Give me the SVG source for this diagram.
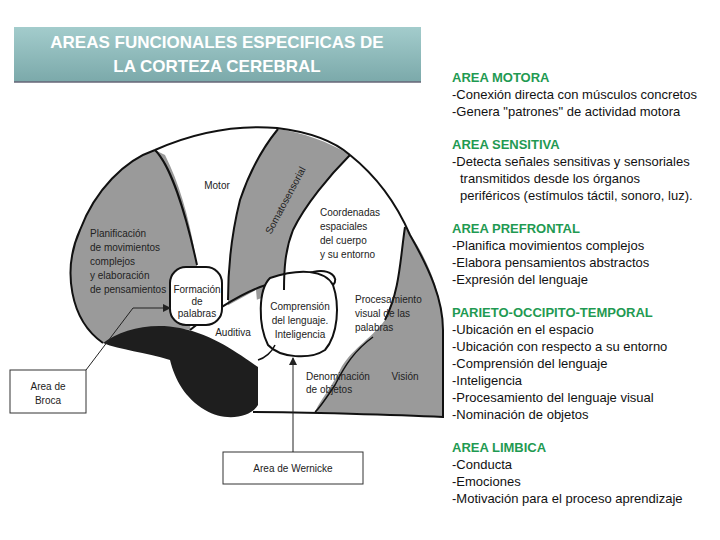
<svg xmlns="http://www.w3.org/2000/svg" width="720" height="540" viewBox="0 0 720 540">
<defs>
<linearGradient id="tg" x1="0" y1="0" x2="0" y2="1"><stop offset="0" stop-color="#a3cccc"/><stop offset="1" stop-color="#7ba9aa"/></linearGradient>
<marker id="ar" markerWidth="8" markerHeight="8" refX="7" refY="4" orient="auto" markerUnits="userSpaceOnUse"><path d="M0,0 L8,4 L0,8 Z" fill="#222"/></marker>
<style>
.b{font-family:"Liberation Sans",Arial,sans-serif;font-size:10px;fill:#222}
.r{font-family:"Liberation Sans",Arial,sans-serif;font-size:13px;fill:#111}
.h{font-family:"Liberation Sans",Arial,sans-serif;font-size:13px;font-weight:bold;fill:#1f9a52}
.ln{fill:none;stroke:#111;stroke-width:2}
.g{fill:#9a9a9a}
</style>
</defs>
<rect width="720" height="540" fill="#fff"/>
<g id="title">
<rect x="14" y="27" width="407" height="55" fill="url(#tg)"/>
<line x1="14" y1="82" x2="421" y2="82" stroke="#667" stroke-width="1.5"/>
<text x="217" y="48" text-anchor="middle" font-family="Liberation Sans,Arial,sans-serif" font-size="17" font-weight="bold" fill="#fff">AREAS FUNCIONALES ESPECIFICAS DE</text>
<text x="217" y="72" text-anchor="middle" font-family="Liberation Sans,Arial,sans-serif" font-size="17" font-weight="bold" fill="#fff">LA CORTEZA CEREBRAL</text>
</g>
<g id="brain">
<path d="M103,343 C70,320 62,270 80,230 C95,190 125,160 155,150 C200,130 240,125 277,128 C310,132 335,142 350,155 C375,175 395,200 410,235 C430,270 443,300 443,330 L443,417 C400,415 300,412 253,412 Z" fill="#fff"/>
<path class="g" d="M155,150 C125,160 95,190 80,230 C62,270 70,320 103,343 C125,333 155,325 190,330 L197,265 C190,220 180,185 165,155 Z"/>
<path class="g" d="M278,129 C300,132 330,142 350,155 C330,175 305,205 293,230 C285,250 284,270 284,290 L228,310 C228,270 230,240 240,200 C250,170 265,145 278,129 Z"/>
<path class="g" fill="#aaa" d="M405,227 C400,260 400,290 385,320 C370,340 350,350 340,370 C330,390 320,400 315,412 L443,417 L443,330 C443,300 430,260 405,227 Z"/>
<path d="M192,325 L256,290 L262,357 L258,367 C240,358 215,340 192,325 Z" fill="#fff"/>
<path fill="#1e1e1e" d="M103,343 C120,330 150,322 180,328 C215,335 240,355 258,367 L258,405 C250,418 225,422 205,410 C185,398 175,380 170,360 C145,352 120,350 103,343 Z"/>
<path d="M190,330 C215,310 240,295 260,287 C280,280 300,275 313,272" class="ln"/>
<rect x="170" y="267" width="52" height="58" rx="16" fill="#fff" stroke="#111" stroke-width="2"/>
<path d="M270,278 C300,268 325,270 333,285 C340,305 338,335 325,350 C310,360 280,358 268,345 C258,325 258,290 270,278 Z" fill="#fff" stroke="#111" stroke-width="2"/>
<path d="M313,272 C330,268 340,278 333,285" class="ln"/>
<path d="M103,343 C70,320 62,270 80,230 C95,190 125,160 155,150 C200,130 240,125 277,128 C310,132 335,142 350,155 C375,175 395,200 410,235 C430,270 443,300 443,330 L443,417 C400,415 300,412 253,412" class="ln"/>
<path d="M155,150 C170,165 185,210 197,265" class="ln" stroke-width="1.5"/>
<path d="M278,129 C265,145 250,170 240,200 C230,240 228,270 228,300" class="ln" stroke-width="1.5"/>
<path d="M350,155 C330,175 305,205 293,230 C285,250 284,270 284,290" class="ln" stroke-width="1.5"/>
<path d="M405,227 C400,260 400,290 385,320" class="ln" stroke-width="1.5"/>
<path d="M373,337 C355,350 345,365 335,385 C325,400 318,410 315,412" fill="none" stroke="#111" stroke-width="1.5"/>
<path d="M275,345 C272,352 265,358 258,360" fill="none" stroke="#111" stroke-width="1.5"/>
<text class="b" x="217" y="189" text-anchor="middle">Motor</text>
<text class="b" x="285" y="204" text-anchor="middle" transform="rotate(-62 285 200)">Somatosensorial</text>
<text class="b" x="320" y="216">Coordenadas</text>
<text class="b" x="320" y="230">espaciales</text>
<text class="b" x="320" y="244">del cuerpo</text>
<text class="b" x="320" y="258">y su entorno</text>
<text class="b" x="90" y="237">Planificación</text>
<text class="b" x="90" y="251">de movimientos</text>
<text class="b" x="90" y="265">complejos</text>
<text class="b" x="90" y="279">y elaboración</text>
<text class="b" x="90" y="293">de pensamientos</text>
<text class="b" x="197" y="293" text-anchor="middle">Formación</text>
<text class="b" x="197" y="305" text-anchor="middle">de</text>
<text class="b" x="197" y="317" text-anchor="middle">palabras</text>
<text class="b" x="233" y="336" text-anchor="middle">Auditiva</text>
<text class="b" x="300" y="310" text-anchor="middle">Comprensión</text>
<text class="b" x="300" y="324" text-anchor="middle">del lenguaje.</text>
<text class="b" x="300" y="338" text-anchor="middle">Inteligencia</text>
<text class="b" x="355" y="303">Procesamiento</text>
<text class="b" x="355" y="317">visual de las</text>
<text class="b" x="355" y="331">palabras</text>
<text class="b" x="306" y="380">Denominación</text>
<text class="b" x="306" y="393">de objetos</text>
<text class="b" x="405" y="380" text-anchor="middle">Visión</text>
</g>
<g id="broca">
<rect x="10" y="370" width="76" height="43" fill="#fff" stroke="#333" stroke-width="1"/>
<text class="b" x="48" y="390" text-anchor="middle">Area de</text>
<text class="b" x="48" y="404" text-anchor="middle">Broca</text>
</g>
<g id="wernicke">
<rect x="223" y="452" width="140" height="32" fill="#fff" stroke="#333" stroke-width="1"/>
<text class="b" x="293" y="472" text-anchor="middle">Area de Wernicke</text>
</g>
<g id="connectors">
<path d="M86,370 L133,308 L170,308" fill="none" stroke="#222" stroke-width="1" marker-end="url(#ar)"/>
<path d="M293,452 L293,358" fill="none" stroke="#222" stroke-width="1" marker-end="url(#ar)"/>
</g>
<g id="notes">
<text class="h" x="452" y="82">AREA MOTORA</text>
<text class="r" x="452" y="99">-Conexión directa con músculos concretos</text>
<text class="r" x="452" y="116">-Genera "patrones" de actividad motora</text>
<text class="h" x="452" y="149">AREA SENSITIVA</text>
<text class="r" x="452" y="166">-Detecta señales sensitivas y sensoriales</text>
<text class="r" x="460" y="183">transmitidos desde los órganos</text>
<text class="r" x="460" y="200">periféricos (estímulos táctil, sonoro, luz).</text>
<text class="h" x="452" y="233">AREA PREFRONTAL</text>
<text class="r" x="452" y="250">-Planifica movimientos complejos</text>
<text class="r" x="452" y="267">-Elabora  pensamientos abstractos</text>
<text class="r" x="452" y="284">-Expresión del lenguaje</text>
<text class="h" x="452" y="317">PARIETO-OCCIPITO-TEMPORAL</text>
<text class="r" x="452" y="334">-Ubicación en el espacio</text>
<text class="r" x="452" y="351">-Ubicación con respecto a su entorno</text>
<text class="r" x="452" y="368">-Comprensión del lenguaje</text>
<text class="r" x="452" y="385">-Inteligencia</text>
<text class="r" x="452" y="402">-Procesamiento del lenguaje visual</text>
<text class="r" x="452" y="419">-Nominación de objetos</text>
<text class="h" x="452" y="452">AREA LIMBICA</text>
<text class="r" x="452" y="469">-Conducta</text>
<text class="r" x="452" y="486">-Emociones</text>
<text class="r" x="452" y="503">-Motivación para el proceso aprendizaje</text>
</g>
</svg>
